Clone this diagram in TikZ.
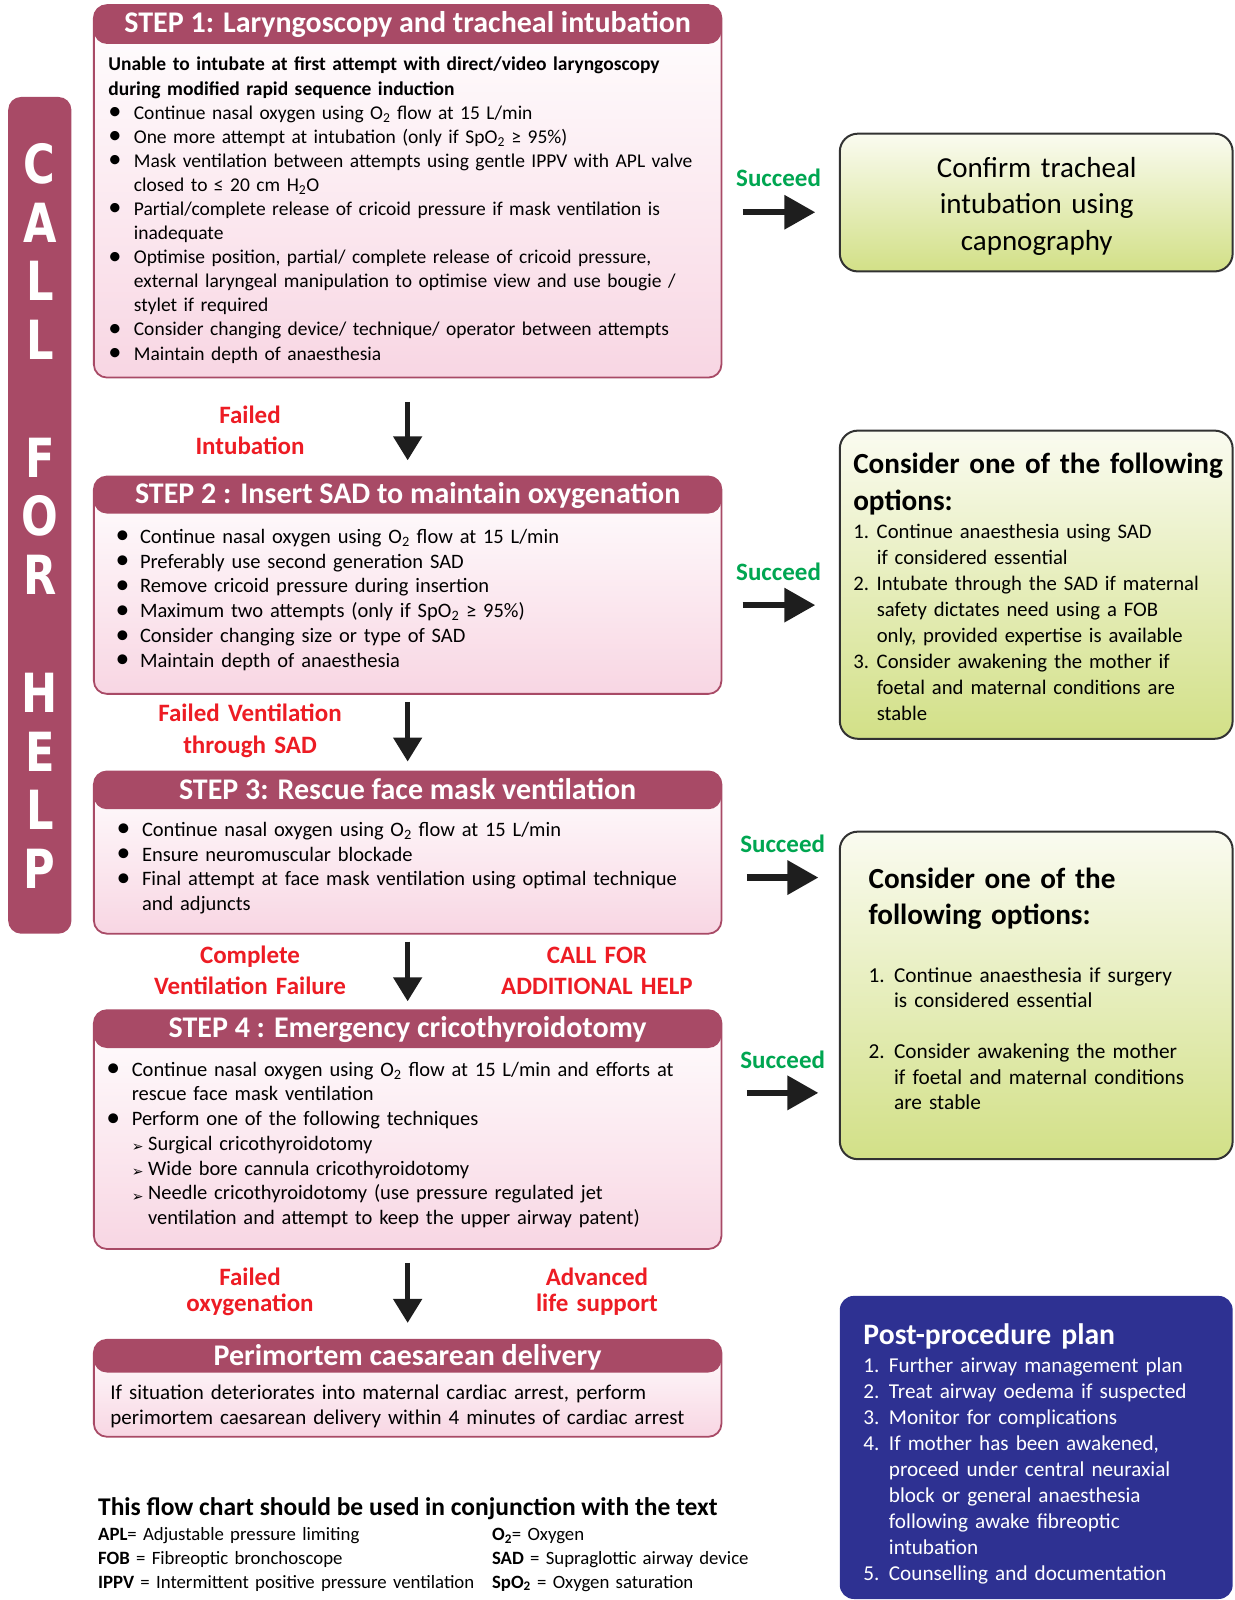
\documentclass[tikz,border=0pt]{standalone}
\usepackage{fontspec}
\usepackage{graphicx}
\setmainfont{Carlito}
\newfontfamily\dejavu{DejaVu Sans}
\usetikzlibrary{arrows.meta,fit,calc}

\definecolor{maroon}{RGB}{168,74,102}
\definecolor{pinkb}{RGB}{248,214,227}
\definecolor{greent}{RGB}{250,251,240}
\definecolor{greenb}{RGB}{210,224,135}
\definecolor{gborder}{RGB}{50,50,50}
\definecolor{redc}{RGB}{237,28,36}
\definecolor{succ}{RGB}{0,166,81}
\definecolor{navy}{RGB}{46,49,146}
\definecolor{arrowc}{RGB}{30,30,30}

\newcommand\itm[3]{\hangindent=#1\hangafter=1\noindent\makebox[#1][l]{#2}#3\par}
\newcommand\subitm[3]{\hangindent=\dimexpr#1+#2\relax\hangafter=1\noindent\hspace*{#1}\makebox[#2][l]{\raisebox{-1.5pt}{\dejavu\fontsize{14}{14}\selectfont ➢}}#3\par}
\newcommand\bul{\raisebox{-0.5pt}{\scalebox{1.35}{\textbullet}}}
\newcommand\nar[1]{\scalebox{0.8}[1]{#1}}

\begin{document}
\begin{tikzpicture}[x=1.0207pt,y=-1.0207pt,
  stepbox/.style={draw=maroon, line width=1.8pt, rounded corners=13pt, top color=white, bottom color=pinkb, inner sep=0pt,
    path picture={\fill[maroon] (path picture bounding box.north west) rectangle ([yshift=-#1]path picture bounding box.north east);}},
  greenbox/.style={draw=gborder, line width=2pt, rounded corners=18pt, top color=greent, bottom color=greenb, inner sep=0pt},
  navybox/.style={fill=navy, rounded corners=14pt, inner sep=0pt},
  ttl/.style={text=white, font=\bfseries\fontsize{30}{31}\selectfont, anchor=base, inner sep=0pt},
  body/.style={anchor=base west, inner sep=0pt, text width=#1, align=left},
  redl/.style={text=redc, font=\bfseries\fontsize{25}{#1}\selectfont, align=center, text width=300pt, anchor=base, inner sep=0pt},
  succl/.style={text=succ, font=\bfseries\fontsize{25}{30}\selectfont, anchor=base, inner sep=0pt},
  varrow/.style={draw=arrowc, line width=5pt, -{Triangle[length=24pt,width=28pt]}},
  harrow/.style={draw=arrowc, line width=6.5pt, -{Triangle[length=31pt,width=33pt]}}
]
\useasboundingbox (0,0) rectangle (1210,1568);

% CALL FOR HELP bar
\node[fill=maroon, rounded corners=13pt, inner sep=0pt, fit={(8,95) (70,915)}] (bar) {};
\node[text=white, font=\dejavu\bfseries\fontsize{54}{58.8}\selectfont, text width=60pt, align=center, anchor=base, inner sep=0pt] (cfh) at (39,179.6)
 {\nar{C}\\\nar{A}\\\nar{L}\\\nar{L}\\\mbox{}\\\nar{F}\\\nar{O}\\\nar{R}\\\mbox{}\\\nar{H}\\\nar{E}\\\nar{L}\\\nar{P}};

% STEP 1
\node[stepbox=38.8pt, fit={(92,5) (707,370)}] (s1) {};
\node[ttl] (s1t) at (399.5,31.5) {STEP 1: Laryngoscopy and tracheal intubation};
\node[body=610pt, font=\fontsize{19.5}{24.1}\selectfont] (s1b) at (106,69.5) {%
\textbf{Unable to intubate at first attempt with direct/video laryngoscopy\newline during modified rapid sequence induction}\par
\itm{25.5pt}{\bul}{Continue nasal oxygen using O\textsubscript{2} flow at 15 L/min}
\itm{25.5pt}{\bul}{One more attempt at intubation (only if SpO\textsubscript{2} ≥ 95\%)}
\itm{25.5pt}{\bul}{Mask ventilation between attempts using gentle IPPV with APL valve\newline closed to ≤ 20 cm H\textsubscript{2}O}
\itm{25.5pt}{\bul}{Partial/complete release of cricoid pressure if mask ventilation is\newline inadequate}
\itm{25.5pt}{\bul}{Optimise position, partial/ complete release of cricoid pressure,\newline external laryngeal manipulation to optimise view and use bougie /\newline stylet if required}
\itm{25.5pt}{\bul}{Consider changing device/ technique/ operator between attempts}
\itm{25.5pt}{\bul}{Maintain depth of anaesthesia}};

% STEP 2
\node[stepbox=37pt, fit={(92,467) (707,680)}] (s2) {};
\node[ttl] (s2t) at (399.5,493.5) {STEP 2 : Insert SAD to maintain oxygenation};
\node[body=600pt, font=\fontsize{20.5}{24.8}\selectfont] (s2b) at (113,532.5) {%
\itm{24.5pt}{\bul}{Continue nasal oxygen using O\textsubscript{2} flow at 15 L/min}
\itm{24.5pt}{\bul}{Preferably use second generation SAD}
\itm{24.5pt}{\bul}{Remove cricoid pressure during insertion}
\itm{24.5pt}{\bul}{Maximum two attempts (only if SpO\textsubscript{2} ≥ 95\%)}
\itm{24.5pt}{\bul}{Consider changing size or type of SAD}
\itm{24.5pt}{\bul}{Maintain depth of anaesthesia}};

% STEP 3
\node[stepbox=37.8pt, fit={(92,756) (707,915)}] (s3) {};
\node[ttl] (s3t) at (399.5,783.5) {STEP 3: Rescue face mask ventilation};
\node[body=600pt, font=\fontsize{20.5}{24.8}\selectfont] (s3b) at (114,819.5) {%
\itm{25.5pt}{\bul}{Continue nasal oxygen using O\textsubscript{2} flow at 15 L/min}
\itm{25.5pt}{\bul}{Ensure neuromuscular blockade}
\itm{25.5pt}{\bul}{Final attempt at face mask ventilation using optimal technique\newline and adjuncts}};

% STEP 4
\node[stepbox=37.8pt, fit={(92,990) (707,1224)}] (s4) {};
\node[ttl] (s4t) at (399.5,1016.5) {STEP 4 : Emergency cricothyroidotomy};
\node[body=600pt, font=\fontsize{20.5}{24.8}\selectfont] (s4b) at (104,1054.5) {%
\itm{25.5pt}{\bul}{Continue nasal oxygen using O\textsubscript{2} flow at 15 L/min and efforts at\newline rescue face mask ventilation}
\itm{25.5pt}{\bul}{Perform one of the following techniques}
\subitm{25.5pt}{16.3pt}{Surgical cricothyroidotomy}
\subitm{25.5pt}{16.3pt}{Wide bore cannula cricothyroidotomy}
\subitm{25.5pt}{16.3pt}{Needle cricothyroidotomy (use pressure regulated jet\newline ventilation and attempt to keep the upper airway patent)}};

% Perimortem
\node[stepbox=32.7pt, fit={(92,1313) (707,1408)}] (s5) {};
\node[ttl] (s5t) at (399.5,1338.5) {Perimortem caesarean delivery};
\node[body=600pt, font=\fontsize{21}{25.3}\selectfont] (s5b) at (108,1371.5) {If situation deteriorates into maternal cardiac arrest, perform\newline perimortem caesarean delivery within 4 minutes of cardiac arrest};

% red labels
\node[redl=30.6pt] (f1) at (245,415) {Failed\\Intubation};
\node[redl=31.6pt] (f2) at (245,707) {Failed Ventilation\\through SAD};
\node[redl=31.6pt] (f3) at (245,944) {Complete\\Ventilation Failure};
\node[redl=31.6pt] (f3b) at (585,944) {CALL FOR\\ADDITIONAL HELP};
\node[redl=25.5pt] (f4) at (245,1260) {Failed\\oxygenation};
\node[redl=25.5pt] (f4b) at (585,1260) {Advanced\\life support};

% vertical arrows
\draw[varrow, shorten <=23.5pt, shorten >=15.3pt] (s1.south) -- (s2.north);
\draw[varrow, shorten <=7pt, shorten >=9pt] (s2.south) -- (s3.north);
\draw[varrow, shorten <=7pt, shorten >=8pt] (s3.south) -- (s4.north);
\draw[varrow, shorten <=13pt, shorten >=16pt] (s4.south) -- (s5.north);

% right boxes
\node[greenbox, fit={(823,131) (1208,266)}] (g1) {};
\node[text width=380pt, align=center, anchor=base, inner sep=0pt, font=\fontsize{29}{36.7}\selectfont] (g1t) at (1016,173.5) {Confirm tracheal\\intubation using\\capnography};

\node[greenbox, fit={(823,422) (1208,724)}] (g2) {};
\node[body=380pt, font=\bfseries\fontsize{29.2}{36.7}\selectfont] (g2t) at (836,464.5) {Consider one of the following\\options:};
\node[body=380pt, font=\fontsize{20.7}{26.1}\selectfont] (g2b) at (836,527.5) {%
\itm{23.5pt}{1.}{Continue anaesthesia using SAD\newline if considered essential}
\itm{23.5pt}{2.}{Intubate through the SAD if maternal\newline safety dictates need using a FOB\newline only, provided expertise is available}
\itm{23.5pt}{3.}{Consider awakening the mother if\newline foetal and maternal conditions are\newline stable}};

\node[greenbox, fit={(823,815) (1208,1136)}] (g3) {};
\node[body=360pt, font=\bfseries\fontsize{29.2}{36.7}\selectfont] (g3t) at (851,870.5) {Consider one of the\\following options:};
\node[body=360pt, font=\fontsize{21.3}{25.5}\selectfont] (g3b) at (851,962.5) {%
\itm{25.5pt}{1.}{Continue anaesthesia if surgery\newline is considered essential}
\vspace{25.5pt}
\itm{25.5pt}{2.}{Consider awakening the mother\newline if foetal and maternal conditions\newline are stable}};

\node[navybox, fit={(823,1270) (1208,1567)}] (pp) {};
\node[body=370pt, text=white, font=\bfseries\fontsize{29.7}{32}\selectfont] (ppt) at (846,1317.5) {Post-procedure plan};
\node[body=370pt, text=white, font=\fontsize{21.2}{26}\selectfont] (ppb) at (846,1345.5) {%
\itm{25.5pt}{1.}{Further airway management plan}
\itm{25.5pt}{2.}{Treat airway oedema if suspected}
\itm{25.5pt}{3.}{Monitor for complications}
\itm{25.5pt}{4.}{If mother has been awakened,\newline proceed under central neuraxial\newline block or general anaesthesia\newline following awake fibreoptic\newline intubation}
\itm{25.5pt}{5.}{Counselling and documentation}};

% succeed labels and arrows
\node[succl] (sc1) at (763,183) {Succeed};
\node[succl] (sc2) at (763,569) {Succeed};
\node[succl] (sc3) at (767,835) {Succeed};
\node[succl] (sc4) at (767,1047) {Succeed};
\coordinate (h1) at (0,208);
\coordinate (h2) at (0,593);
\coordinate (h3) at (0,860);
\coordinate (h4) at (0,1071);
\draw[harrow, shorten <=20.4pt, shorten >=23.5pt] (s1.east |- h1) -- (g1.west |- h1);
\draw[harrow, shorten <=20.4pt, shorten >=23.5pt] (s2.east |- h2) -- (g2.west |- h2);
\draw[harrow, shorten <=24.5pt, shorten >=20.4pt] (s3.east |- h3) -- (g3.west |- h3);
\draw[harrow, shorten <=24.5pt, shorten >=20.4pt] (s4.east |- h4) -- (g3.west |- h4);

% legend
\node[anchor=base west, inner sep=0pt, font=\bfseries\fontsize{25.5}{28}\selectfont] (lgt) at (96,1485) {This flow chart should be used in conjunction with the text};
\node[body=390pt, font=\fontsize{18.8}{24}\selectfont] (lgl) at (96,1509.5) {%
\textbf{APL}= Adjustable pressure limiting\\
\textbf{FOB} = Fibreoptic bronchoscope\\
\textbf{IPPV} = Intermittent positive pressure ventilation};
\node[body=300pt, font=\fontsize{18.8}{24}\selectfont] (lgr) at (482,1509.5) {%
\textbf{O\textsubscript{2}}= Oxygen\\
\textbf{SAD} = Supraglottic airway device\\
\textbf{SpO\textsubscript{2}} = Oxygen saturation};
\end{tikzpicture}
\end{document}
